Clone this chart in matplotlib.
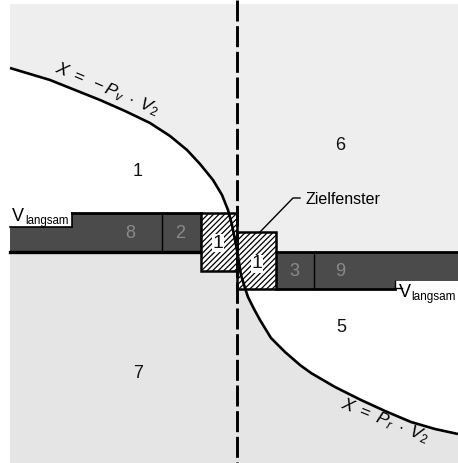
import matplotlib
matplotlib.use("Agg")
import matplotlib.pyplot as plt
from matplotlib.patches import Rectangle, Polygon
import numpy as np

plt.rcParams['font.family'] = ['Liberation Sans', 'DejaVu Sans']
plt.rcParams['mathtext.fontset'] = 'custom'
plt.rcParams['mathtext.it'] = 'Liberation Sans:italic'
plt.rcParams['mathtext.rm'] = 'Liberation Sans'
plt.rcParams['hatch.linewidth'] = 0.9

W, H = 458, 463

# S-curve boundary X = -Pv*V2 (upper) / X = Pr*V2 (lower)
curve_x = [10, 30, 50, 75, 100, 125, 150, 170, 187, 200, 213, 222, 228, 232, 236,
           239, 241, 245, 248, 254, 260, 271, 285, 300, 311, 335, 361, 385, 411, 435, 458]
curve_y = [68, 74, 80, 90, 100, 111, 123, 136, 150, 164, 180, 195, 210, 225, 245,
           262, 275, 288, 297, 309, 320, 338, 352, 365, 373, 387, 400, 411, 422, 429, 434]

# bands (x0, x1, y0, y1)
left_band = (10, 201, 213, 252)
right_band = (276, 458, 252, 289)
left_window = (201, 237, 213, 271)
right_window = (237, 276, 232, 289)
left_divider = 162
right_divider = 314
center_x = 237

region_labels = ["1", "6", "7", "5"]
region_pos = [(138, 172), (340, 145), (138, 373), (341, 327)]
band_labels = ["8", "2", "3", "9"]
band_pos = [(130, 234), (180, 234), (294, 271), (340, 271)]

fig = plt.figure(figsize=(W / 100, H / 100), dpi=100)
ax = fig.add_axes([0, 0, 1, 1])
ax.set_xlim(0, W)
ax.set_ylim(H, 0)
ax.axis('off')

cx = np.array(curve_x, float)
cy = np.array(curve_y, float)

# stippled backgrounds
ax.add_patch(Rectangle((10, 4), W - 10, 248, facecolor='#eeeeee', edgecolor='none', zorder=0))
ax.add_patch(Rectangle((10, 252), W - 10, H - 252, facecolor='#e5e5e5', edgecolor='none', zorder=0))

# white region 1 (between upper curve and left band)
m = cy <= left_band[2]
poly1 = list(zip(cx[m], cy[m])) + [(np.interp(left_band[2], cy, cx), left_band[2]), (0, left_band[2]), (0, cy[0])]
ax.add_patch(Polygon(poly1, closed=True, facecolor='white', edgecolor='none', zorder=1))
# white region 5 (between right band and lower curve)
m = cy >= right_band[3]
poly5 = [(np.interp(right_band[3], cy, cx), right_band[3])] + list(zip(cx[m], cy[m])) + [(W, cy[-1]), (W, right_band[3])]
ax.add_patch(Polygon(poly5, closed=True, facecolor='white', edgecolor='none', zorder=1))

dark = '#4b4b4b'
# left band
x0, x1, y0, y1 = left_band
ax.add_patch(Rectangle((x0, y0), x1 - x0, y1 - y0, facecolor=dark, edgecolor='none', zorder=2))
ax.add_patch(Rectangle((6, 198), 66, 29, facecolor='white', edgecolor='none', zorder=3))
ax.plot([72, x1], [y0, y0], color='black', lw=2, zorder=4)
ax.plot([72, 72], [y0, 227], color='black', lw=1.2, zorder=4)
ax.plot([x0, 72], [227, 227], color='black', lw=1.2, zorder=4)
ax.plot([x0, x1], [y1, y1], color='black', lw=2.4, zorder=4)
ax.plot([left_divider, left_divider], [y0, y1], color='black', lw=1, zorder=4)

# right band
x0, x1, y0, y1 = right_band
ax.add_patch(Rectangle((x0, y0), x1 - x0, y1 - y0, facecolor=dark, edgecolor='none', zorder=2))
ax.add_patch(Rectangle((395, 281), W - 395, 26, facecolor='white', edgecolor='none', zorder=3))
ax.plot([x0, x1], [y0, y0], color='black', lw=2, zorder=4)
ax.plot([x0, 395], [y1, y1], color='black', lw=2, zorder=4)
ax.plot([395, 395], [281, y1], color='black', lw=1, zorder=4)
ax.plot([395, 402], [288, 288], color='black', lw=1, zorder=4)
ax.plot([right_divider, right_divider], [y0, y1], color='black', lw=1, zorder=4)

# hatched target windows
for (x0, x1, y0, y1) in (left_window, right_window):
    ax.add_patch(Rectangle((x0, y0), x1 - x0, y1 - y0, facecolor='white', edgecolor='black',
                           hatch='//////', lw=1.8, zorder=5))

# center dashed line
ax.plot([center_x, center_x], [0, H], color='black', lw=2.1, dashes=(7.2, 1.6), zorder=6)

# S-curve
ax.plot(cx, cy, color='black', lw=1.9, zorder=7, solid_capstyle='butt')

# labels
for t, (x, y) in zip(region_labels, region_pos):
    ax.text(x, y, t, fontsize=13, ha='center', va='center', color='#111111', zorder=8)
for t, (x, y) in zip(band_labels, band_pos):
    ax.text(x, y, t, fontsize=13, ha='center', va='center', color='#8a8a8a', zorder=8)

for (x, y) in [(218, 243), (257, 264)]:
    ax.text(x, y, "1", fontsize=14, ha='center', va='center', color='#111111', zorder=8,
            bbox=dict(boxstyle='square,pad=0.05', facecolor='white', edgecolor='none'))

# V_langsam labels
ax.text(12, 221, "V", fontsize=13, ha='left', va='baseline', color='black', zorder=8)
ax.text(25, 224, "langsam", fontsize=8.3, ha='left', va='baseline', color='black', zorder=8)
ax.text(399, 297, "V", fontsize=13, ha='left', va='baseline', color='black', zorder=8)
ax.text(411, 300, "langsam", fontsize=8.5, ha='left', va='baseline', color='black', zorder=8)

# Zielfenster label with leader
ax.plot([260, 293, 300], [232, 198, 198], color='black', lw=1, zorder=8)
ax.text(305, 200, "Zielfenster", fontsize=11.5, ha='left', va='center', color='black', zorder=8)

# curve formulas
ax.text(107, 89, r"$X\ =\ -P_v\ \cdot\ V_2$", fontsize=12.5, rotation=-23, rotation_mode='anchor',
        ha='center', va='center', color='black', zorder=8)
ax.text(385, 421, r"$X\ =\ P_r\ \cdot\ V_2$", fontsize=12.5, rotation=-22, rotation_mode='anchor',
        ha='center', va='center', color='black', zorder=8)

fig.savefig("out.png", dpi=100)
